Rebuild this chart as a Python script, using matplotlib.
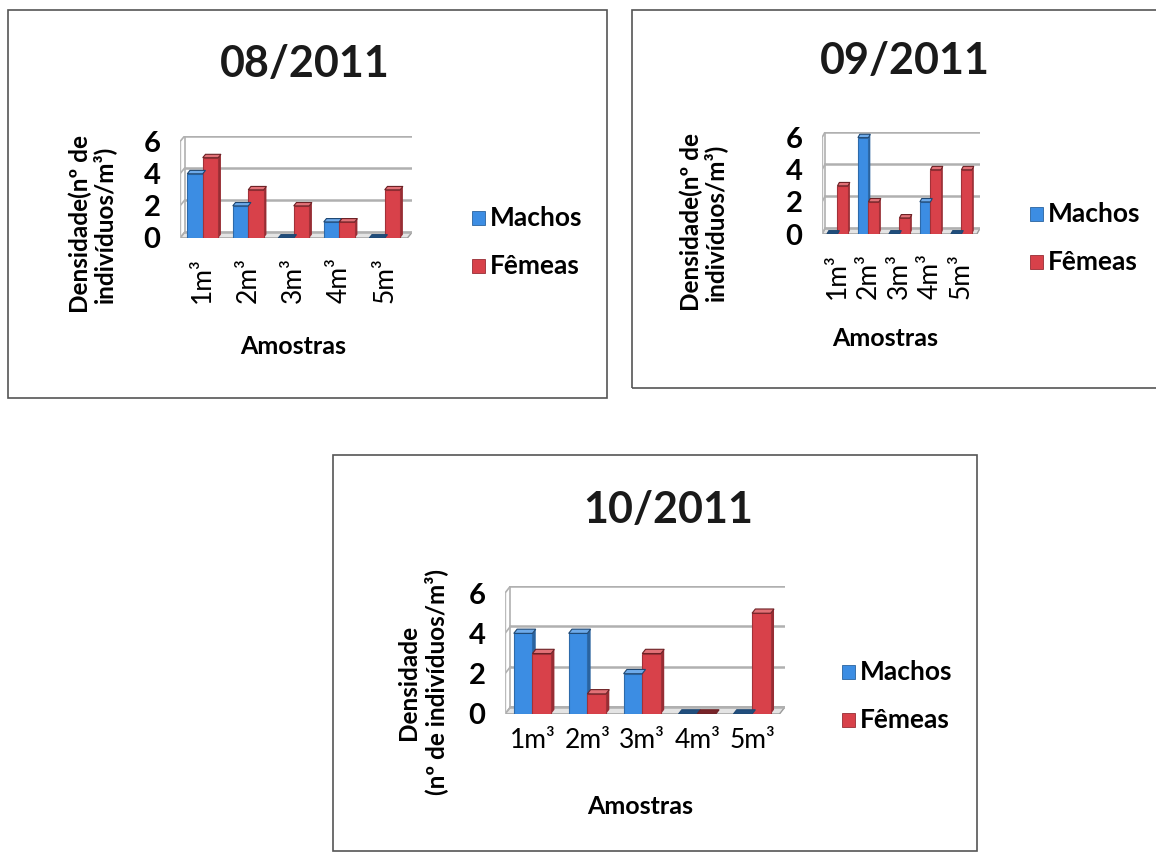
import matplotlib
matplotlib.use("Agg")
import matplotlib.pyplot as plt
from matplotlib.patches import Rectangle, Polygon
from matplotlib.colors import to_rgb

plt.rcParams['font.family'] = ['Lato', 'DejaVu Sans']
plt.rcParams['font.weight'] = 'bold'

# Sample volumes and counts per month
amostras = ["1m³", "2m³", "3m³", "4m³", "5m³"]
machos_ago = [4, 2, 0, 1, 0]
femeas_ago = [5, 3, 2, 1, 3]
machos_set = [0, 6, 0, 2, 0]
femeas_set = [3, 2, 1, 4, 4]
machos_out = [4, 4, 2, 0, 0]
femeas_out = [3, 1, 3, 0, 5]
yticks = [0, 2, 4, 6]

BLUE = "#3c8de3"
RED = "#d8414a"
W, H = 1156, 852

fig = plt.figure(figsize=(W / 100, H / 100), dpi=100)
fig.patch.set_facecolor("white")


def fx(px):
    return px / W


def fy(py):
    return 1 - py / H


def frame(x0, y0, x1, y1):
    fig.patches.append(Rectangle((fx(x0), fy(y1)), fx(x1 - x0), (y1 - y0) / H,
                                 transform=fig.transFigure, fill=False,
                                 edgecolor="#555555", lw=1.2))


def shade(c, f):
    r, g, b = to_rgb(c)
    if f < 1:
        return (r * f, g * f, b * f)
    return (r + (1 - r) * (f - 1), g + (1 - g) * (f - 1), b + (1 - b) * (f - 1))


def chart(box, machos, femeas, title, title_xy, ylabel, ylabel_x, ylabel_y,
          rot_ticks, xlabel_xy, legend_xy, tick_fs=21):
    x0, y0, x1, y1 = box
    ax = fig.add_axes([fx(x0), fy(y1), fx(x1 - x0), (y1 - y0) / H])
    n = len(amostras)
    dx, dy = 0.10, 0.35
    ax.set_xlim(-0.5, n - 0.5 + dx)
    ax.set_ylim(0, 6 + dy)
    # floor and back wall with gridlines
    ax.add_patch(Polygon([(-0.5, 0), (n - 0.5, 0), (n - 0.5 + dx, dy), (-0.5 + dx, dy)],
                         closed=True, facecolor="#e4e4e4", edgecolor="#9a9a9a", lw=1, zorder=1))
    for t in yticks:
        ax.plot([-0.5 + dx, n - 0.5 + dx], [t + dy, t + dy], color="#b0b0b0", lw=1.8, zorder=1)
        ax.plot([-0.5, -0.5 + dx], [t, t + dy], color="#b0b0b0", lw=1.2, zorder=1)
    ax.plot([-0.5 + dx, -0.5 + dx], [dy, 6 + dy], color="#b0b0b0", lw=1.2, zorder=1)
    ax.plot([-0.5, -0.5], [0, 6], color="#bbbbbb", lw=1.0, zorder=1)

    bw = 0.34
    xs = list(range(n))
    for vals, col, off in ((machos, BLUE, -bw / 2), (femeas, RED, bw / 2)):
        bars = ax.bar([x + off for x in xs], vals, width=bw, color=col,
                      edgecolor=shade(col, 0.75), lw=0.8, zorder=3)
        for b in bars:
            bx, bwid, bh = b.get_x(), b.get_width(), b.get_height()
            ax.add_patch(Polygon([(bx + bwid, 0), (bx + bwid + dx * 0.6, dy * 0.6),
                                  (bx + bwid + dx * 0.6, bh + dy * 0.6), (bx + bwid, bh)],
                                 closed=True, facecolor=shade(col, 0.7),
                                 edgecolor="none", zorder=2.9))
            ax.add_patch(Polygon([(bx, bh), (bx + bwid, bh),
                                  (bx + bwid + dx * 0.6, bh + dy * 0.6), (bx + dx * 0.6, bh + dy * 0.6)],
                                 closed=True, facecolor=shade(col, 1.25) if bh > 0 else shade(col, 0.55),
                                 edgecolor=shade(col, 0.5), lw=0.8, zorder=3.1))

    ax.set_yticks(yticks)
    ax.set_yticklabels([str(t) for t in yticks], fontsize=tick_fs, fontweight="bold")
    ax.set_xticks(xs)
    ax.set_xticklabels(amostras, fontsize=tick_fs - 2, fontweight="normal",
                       rotation=90 if rot_ticks else 0)
    ax.tick_params(length=0, pad=14 if rot_ticks else 10)
    ax.tick_params(axis="y", pad=14)
    for s in ax.spines.values():
        s.set_visible(False)
    ax.set_facecolor("none")

    fig.text(fx(title_xy[0]), fy(title_xy[1]), title, fontsize=31, fontweight="bold",
             ha="center", va="center", color="#1a1a1a")
    if isinstance(ylabel, str):
        fig.text(fx(ylabel_x), fy(ylabel_y), ylabel, fontsize=17.5, fontweight="bold",
                 rotation=90, ha="center", va="center", linespacing=1.0)
    else:
        for lbl, xx in zip(ylabel, ylabel_x):
            fig.text(fx(xx), fy(ylabel_y), lbl, fontsize=17.5, fontweight="bold",
                     rotation=90, ha="center", va="center")
    fig.text(fx(xlabel_xy[0]), fy(xlabel_xy[1]), "Amostras", fontsize=18,
             fontweight="bold", ha="center", va="center")
    lx, ly = legend_xy
    for i, (name, col) in enumerate((("Machos", BLUE), ("Fêmeas", RED))):
        yy = ly + i * 48
        fig.patches.append(Rectangle((fx(lx), fy(yy + 7)), fx(13), 14 / H,
                                     transform=fig.transFigure, facecolor=col,
                                     edgecolor=shade(col, 0.7), lw=0.6))
        fig.text(fx(lx + 18), fy(yy), name, fontsize=19, fontweight="bold",
                 ha="left", va="center")
    return ax


frame(8, 10, 607, 398)
frame(632, 10, 1175, 388)
frame(333, 455, 977, 851)

chart((180, 136, 412, 238), machos_ago, femeas_ago, "08/2011", (305, 64),
      "Densidade(nº de\nindivíduos/m³)", 92, 224, True, (293, 346), (472, 218))
chart((822, 132, 980, 234), machos_set, femeas_set, "09/2011", (905, 61),
      "Densidade(nº de\nindivíduos/m³)", 703, 222, True, (885, 338), (1030, 214))
chart((505, 586, 785, 714), machos_out, femeas_out, "10/2011", (668, 510),
      ["Densidade", "(nº de indivíduos/m³)"], [408, 436], 682, False, (640, 806), (842, 672))

fig.savefig("out.png", dpi=100, facecolor="white")
